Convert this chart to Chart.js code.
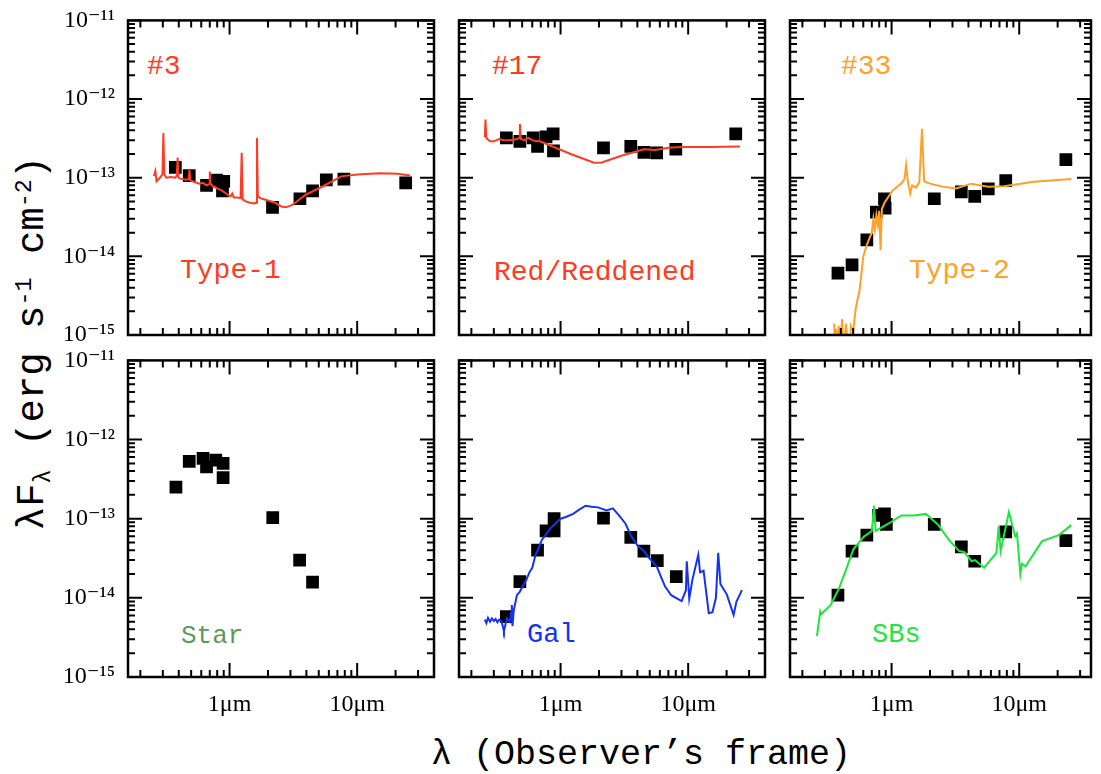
<!DOCTYPE html>
<html>
<head>
<meta charset="utf-8">
<script src="https://cdn.jsdelivr.net/npm/chart.js@4.4.1/dist/chart.umd.min.js"></script>
<style>
  html, body { margin: 0; padding: 0; background: #fff; }
  body { width: 1101px; height: 774px; position: relative; overflow: hidden; }
  canvas { position: absolute; }
  .lbl { position: absolute; font-family: 'Liberation Mono', 'DejaVu Sans Mono', monospace; line-height: 1; white-space: pre; }
  .sub { font-size: 0.6em; position: relative; top: 0.3em; }
  .sup { font-size: 0.6em; position: relative; top: -0.5em; }
</style>
</head>
<body>
<div class="lbl" id="ytitle" style="left:33px; top:343px; font-size:39px; transform: translate(-50%,-50%) rotate(-90deg);">λF<span class="sub">λ</span> (erg s<span class="sup">-1</span> cm<span class="sup">-2</span>)</div>
<div class="lbl" id="xtitle" style="left:431px; top:738px; font-size:35px;">λ (Observer’s frame)</div>

<div class="lbl" style="left:147px; top:53px; font-size:28px; color:#ff3b22;">#3</div>
<div class="lbl" style="left:180px; top:257px; font-size:28px; color:#ff3b22;">Type-1</div>
<div class="lbl" style="left:492px; top:53px; font-size:28px; color:#ff3b22;">#17</div>
<div class="lbl" style="left:494px; top:259px; font-size:28px; color:#ff3b22;">Red/Reddened</div>
<div class="lbl" style="left:841px; top:53px; font-size:28px; color:#ffa126;">#33</div>
<div class="lbl" style="left:909px; top:257px; font-size:28px; color:#ffa126;">Type-2</div>
<div class="lbl" style="left:181px; top:623px; font-size:26px; color:#5a9a5a;">Star</div>
<div class="lbl" style="left:527px; top:622px; font-size:27px; color:#1432f5;">Gal</div>
<div class="lbl" style="left:872px; top:622px; font-size:27px; color:#1ee63c;">SBs</div>

<script>
// ---------------- axis ticks ----------------
const xTickValues = [1, 10];
const xTickLabels = ['1μm', '10μm'];
const yTickValues = [1e-15, 1e-14, 1e-13, 1e-12, 1e-11];
const yTickLabels = ['10⁻¹⁵', '10⁻¹⁴', '10⁻¹³', '10⁻¹²', '10⁻¹¹'];
const xMinorTicks = [0.2, 0.3, 0.4, 0.5, 0.6, 0.7, 0.8, 0.9, 2, 3, 4, 5, 6, 7, 8, 9, 20, 30];
const yMinorMult = [2, 3, 4, 5, 6, 7, 8, 9];

// ---------------- photometry (squares) ----------------
const p3Wl  = [0.376, 0.483, 0.66, 0.79, 0.88, 0.90, 2.17, 3.56, 4.47, 5.73, 7.87, 24.0];
const p3F   = [1.35e-13, 1.06e-13, 8.0e-14, 9.3e-14, 6.8e-14, 9.0e-14, 4.2e-14, 5.4e-14, 6.8e-14, 9.4e-14, 9.6e-14, 8.6e-14];

const p17Wl = [0.376, 0.48, 0.61, 0.66, 0.77, 0.875, 0.88, 2.17, 3.55, 4.5, 5.66, 8.0, 23.6];
const p17F  = [3.2e-13, 2.9e-13, 3.2e-13, 2.5e-13, 3.3e-13, 3.6e-13, 2.2e-13, 2.4e-13, 2.5e-13, 2.1e-13, 2.07e-13, 2.3e-13, 3.6e-13];

const p33Wl = [0.38, 0.49, 0.64, 0.76, 0.88, 0.89, 2.16, 3.52, 4.48, 5.72, 7.84, 23.2];
const p33F  = [6.1e-15, 7.8e-15, 1.62e-14, 3.64e-14, 5.4e-14, 4.1e-14, 5.4e-14, 6.6e-14, 5.8e-14, 7.2e-14, 9.2e-14, 1.7e-13];

const starWl = [0.38, 0.483, 0.62, 0.66, 0.78, 0.89, 0.89, 2.18, 3.54, 4.47];
const starF  = [2.5e-13, 5.3e-13, 5.8e-13, 4.5e-13, 5.5e-13, 5.0e-13, 3.3e-13, 1.03e-13, 3.0e-14, 1.58e-14];

const galWl = [0.376, 0.48, 0.66, 0.77, 0.89, 0.89, 2.17, 3.55, 4.5, 5.73, 8.07];
const galF  = [5.8e-15, 1.6e-14, 4.0e-14, 7.0e-14, 1.0e-13, 7.0e-14, 1.02e-13, 5.8e-14, 3.9e-14, 2.95e-14, 1.85e-14];

const sbWl = [0.38, 0.49, 0.64, 0.79, 0.88, 0.91, 2.16, 3.52, 4.48, 7.84, 23.2];
const sbF  = [1.08e-14, 3.9e-14, 6.2e-14, 1.1e-13, 1.15e-13, 8.5e-14, 8.5e-14, 4.4e-14, 2.9e-14, 6.8e-14, 5.3e-14];

// ---------------- templates (lines) ----------------
const type1Wl = [0.255, 0.262, 0.268, 0.285, 0.298, 0.303, 0.308, 0.320, 0.345, 0.375, 0.385, 0.392, 0.398, 0.42, 0.46, 0.478, 0.485, 0.492, 0.53, 0.58, 0.62, 0.66, 0.695, 0.70, 0.705, 0.74, 0.80, 0.87, 0.95, 1.02, 1.05, 1.08, 1.15, 1.22, 1.245, 1.265, 1.34, 1.45, 1.55, 1.62, 1.64, 1.665, 1.74, 1.94, 2.28, 2.55, 2.75, 3.1, 3.9, 5.5, 7.5, 10, 15, 20.7, 26];
const type1F  = [1.05e-13, 1.22e-13, 9.0e-14, 1.0e-13, 1.1e-13, 3.7e-13, 1.1e-13, 1.0e-13, 1.02e-13, 1.0e-13, 1.05e-13, 1.8e-13, 1.0e-13, 9.6e-14, 9.4e-14, 9.6e-14, 1.25e-13, 9.3e-14, 8.8e-14, 8.4e-14, 8.6e-14, 8.0e-14, 8.3e-14, 1.2e-13, 8.5e-14, 7.8e-14, 7.3e-14, 6.9e-14, 6.2e-14, 5.8e-14, 6.3e-14, 5.6e-14, 5.6e-14, 5.5e-14, 2.07e-13, 5.3e-14, 5.0e-14, 4.8e-14, 4.7e-14, 4.8e-14, 3.2e-13, 5.8e-14, 5.5e-14, 5.2e-14, 4.8e-14, 4.3e-14, 4.2e-14, 4.5e-14, 6.0e-14, 7.9e-14, 1.04e-13, 1.1e-13, 1.14e-13, 1.12e-13, 1.07e-13];

const redWl = [0.255, 0.258, 0.262, 0.28, 0.30, 0.33, 0.36, 0.40, 0.46, 0.475, 0.48, 0.488, 0.52, 0.56, 0.60, 0.65, 0.69, 1.2, 1.83, 2.1, 3.0, 4.5, 5.5, 7.0, 9.0, 15, 25.5];
const redF  = [3.3e-13, 5.5e-13, 3.2e-13, 2.9e-13, 2.9e-13, 3.1e-13, 3.0e-13, 3.0e-13, 3.1e-13, 3.2e-13, 4.8e-13, 3.1e-13, 3.0e-13, 3.2e-13, 3.0e-13, 2.9e-13, 2.9e-13, 2.0e-13, 1.55e-13, 1.56e-13, 1.9e-13, 2.3e-13, 2.25e-13, 2.4e-13, 2.45e-13, 2.45e-13, 2.5e-13];

const type2Wl = [0.355, 0.362, 0.368, 0.375, 0.385, 0.39, 0.40, 0.41, 0.42, 0.44, 0.46, 0.48, 0.50, 0.52, 0.54, 0.56, 0.58, 0.60, 0.64, 0.68, 0.70, 0.72, 0.74, 0.76, 0.78, 0.80, 0.82, 0.84, 0.88, 0.95, 1.02, 1.10, 1.19, 1.26, 1.30, 1.34, 1.40, 1.45, 1.55, 1.65, 1.73, 1.80, 2.0, 2.5, 3.2, 4.2, 5.7, 7.6, 13, 25.6];
const type2F  = [1.4e-15, 5e-16, 1.2e-15, 5e-16, 1.3e-15, 6e-16, 1.0e-15, 1.6e-15, 6e-16, 1.4e-15, 5e-16, 1.3e-15, 1.1e-15, 2.0e-15, 2.8e-15, 3.6e-15, 6e-15, 1.0e-14, 1.4e-14, 1.8e-14, 2.0e-14, 3.0e-14, 2.2e-14, 3.3e-14, 2.5e-14, 3.8e-14, 1.2e-14, 4.0e-14, 4.8e-14, 5.8e-14, 6.9e-14, 7.6e-14, 8.4e-14, 9.5e-14, 1.45e-13, 9.0e-14, 6.3e-14, 8.0e-14, 7.5e-14, 8.8e-14, 4.2e-13, 9.0e-14, 8.4e-14, 7.7e-14, 7.3e-14, 8.4e-14, 7.7e-14, 7.8e-14, 8.9e-14, 9.6e-14];

const galTplWl = [0.255, 0.262, 0.27, 0.28, 0.29, 0.30, 0.31, 0.32, 0.33, 0.345, 0.355, 0.36, 0.37, 0.38, 0.40, 0.41, 0.415, 0.42, 0.43, 0.455, 0.48, 0.51, 0.54, 0.57, 0.60, 0.637, 0.66, 0.713, 0.75, 0.829, 0.9, 1.0, 1.1, 1.255, 1.4, 1.57, 1.75, 1.97, 2.29, 2.57, 2.87, 3.22, 3.6, 4.04, 4.5, 4.86, 5.66, 6.58, 7.36, 8.89, 9.6, 9.75, 10.2, 10.8, 12.0, 12.4, 13.2, 14.5, 15.5, 16.5, 17.2, 17.9, 20.1, 22.7, 23.9, 26.4];
const galTplF  = [5.3e-15, 4.8e-15, 5.6e-15, 5.0e-15, 5.5e-15, 5.1e-15, 5.4e-15, 4.9e-15, 5.3e-15, 5.0e-15, 4.2e-15, 3.8e-15, 4.6e-15, 5.5e-15, 5.0e-15, 6.5e-15, 8.1e-15, 4.4e-15, 7.0e-15, 1.08e-14, 1.2e-14, 1.44e-14, 1.7e-14, 2.1e-14, 2.4e-14, 3.5e-14, 3.9e-14, 5.4e-14, 6.0e-14, 7.5e-14, 8.5e-14, 1.0e-13, 1.05e-13, 1.15e-13, 1.3e-13, 1.46e-13, 1.42e-13, 1.39e-13, 1.27e-13, 1.35e-13, 1.1e-13, 8.7e-14, 5.9e-14, 4.5e-14, 3.9e-14, 3.3e-14, 2.5e-14, 1.4e-14, 1.08e-14, 9.1e-15, 1.25e-14, 2.9e-14, 9.8e-15, 1.7e-14, 3.5e-14, 2.1e-14, 2.2e-14, 6.4e-15, 6.6e-15, 1.0e-14, 3.7e-14, 1.5e-14, 1.1e-14, 6.1e-15, 9e-15, 1.25e-14];

const sbTplWl = [0.26, 0.276, 0.28, 0.332, 0.386, 0.432, 0.502, 0.604, 0.70, 0.73, 0.75, 0.95, 1.19, 1.5, 1.86, 2.33, 2.81, 3.39, 3.7, 4.24, 4.5, 5.31, 6.63, 6.9, 7.15, 8.3, 9.3, 9.6, 10.2, 10.5, 11.2, 15.1, 20.4, 25.6];
const sbTplF  = [3.3e-15, 6.7e-15, 6.2e-15, 8.1e-15, 1.3e-14, 2.1e-14, 4.1e-14, 5.9e-14, 7.0e-14, 1.46e-13, 7.0e-14, 8.7e-14, 1.1e-13, 1.1e-13, 1.15e-13, 8.3e-14, 5.4e-14, 3.9e-14, 3.8e-14, 2.9e-14, 3.0e-14, 2.4e-14, 3.7e-14, 8.0e-14, 3.9e-14, 1.21e-13, 6.0e-14, 6.5e-14, 2.0e-14, 2.7e-14, 2.5e-14, 5.2e-14, 6.2e-14, 8.3e-14];

// ---------------- layout ----------------
const AX_W = 120, AX_H = 50, PAD_T = 20, PAD_R = 6;
const BLACK = '#000000';

const panels = [
  { L: 128, T: 13,  W: 309, H: 322, xmax: 40,   pw: p3Wl,   pf: p3F,   tw: type1Wl,  tf: type1F,  color: '#ff3b22', xlab: false, ylab: true },
  { L: 459, T: 13,  W: 309, H: 322, xmax: 40,   pw: p17Wl,  pf: p17F,  tw: redWl,    tf: redF,    color: '#ff3b22', xlab: false, ylab: false },
  { L: 790, T: 13,  W: 304, H: 322, xmax: 36.5, pw: p33Wl,  pf: p33F,  tw: type2Wl,  tf: type2F,  color: '#ffa126', xlab: false, ylab: false },
  { L: 128, T: 353, W: 309, H: 324, xmax: 40,   pw: starWl, pf: starF, tw: null,     tf: null,    color: '#5a9a5a', xlab: true,  ylab: true },
  { L: 459, T: 353, W: 309, H: 324, xmax: 40,   pw: galWl,  pf: galF,  tw: galTplWl, tf: galTplF, color: '#1432f5', xlab: true,  ylab: false },
  { L: 790, T: 353, W: 304, H: 324, xmax: 36.5, pw: sbWl,   pf: sbF,   tw: sbTplWl,  tf: sbTplF,  color: '#1ee63c', xlab: true,  ylab: false }
];

const frameTicks = {
  id: 'frameTicks',
  afterDraw(chart) {
    const { ctx, chartArea: a, scales } = chart;
    const xs = scales.x, ys = scales.y;
    const MAJ = 14, MIN = 7;
    ctx.save();
    ctx.strokeStyle = BLACK;
    ctx.lineWidth = 2;
    ctx.lineCap = 'butt';
    ctx.beginPath();
    const seg = (x1, y1, x2, y2) => { ctx.moveTo(x1, y1); ctx.lineTo(x2, y2); };
    yTickValues.forEach(v => {
      const p = ys.getPixelForValue(v);
      seg(a.left, p, a.left + MAJ, p);
      seg(a.right, p, a.right - MAJ, p);
      yMinorMult.forEach(m => {
        const val = v * m;
        if (val >= ys.max) return;
        const q = ys.getPixelForValue(val);
        seg(a.left, q, a.left + MIN, q);
        seg(a.right, q, a.right - MIN, q);
      });
    });
    xTickValues.forEach(v => {
      const p = xs.getPixelForValue(v);
      seg(p, a.bottom, p, a.bottom - MAJ);
      seg(p, a.top, p, a.top + MAJ);
    });
    xMinorTicks.forEach(v => {
      if (v <= xs.min || v >= xs.max) return;
      const p = xs.getPixelForValue(v);
      seg(p, a.bottom, p, a.bottom - MIN);
      seg(p, a.top, p, a.top + MIN);
    });
    ctx.stroke();
    ctx.lineWidth = 2.5;
    ctx.strokeRect(a.left, a.top, a.right - a.left, a.bottom - a.top);
    ctx.restore();
  }
};

panels.forEach((p, idx) => {
  const cv = document.createElement('canvas');
  const cw = AX_W + p.W + PAD_R, ch = PAD_T + p.H + AX_H;
  cv.width = cw; cv.height = ch;
  cv.style.left = (p.L - AX_W) + 'px';
  cv.style.top = (p.T - PAD_T) + 'px';
  cv.style.width = cw + 'px';
  cv.style.height = ch + 'px';
  document.body.appendChild(cv);

  const datasets = [];
  if (p.tw) {
    datasets.push({
      data: p.tw.map((w, i) => ({ x: w, y: p.tf[i] })),
      showLine: true, borderColor: p.color, borderWidth: 2, pointRadius: 0, tension: 0
    });
  }
  datasets.push({
    data: p.pw.map((w, i) => ({ x: w, y: p.pf[i] })),
    showLine: false, pointStyle: 'rect', pointRadius: 9,
    backgroundColor: BLACK, borderWidth: 0
  });

  new Chart(cv, {
    type: 'scatter',
    data: { datasets },
    options: {
      responsive: false, animation: false, devicePixelRatio: 1,
      layout: { padding: { left: 0, top: PAD_T, right: PAD_R, bottom: 0 } },
      plugins: { legend: { display: false }, tooltip: { enabled: false } },
      scales: {
        x: {
          type: 'logarithmic', min: 0.16, max: p.xmax,
          grid: { display: false, drawTicks: false }, border: { display: false },
          afterBuildTicks: s => { s.ticks = xTickValues.map(v => ({ value: v })); },
          afterFit: s => { s.height = AX_H; },
          ticks: {
            autoSkip: false, maxRotation: 0, padding: 13, color: BLACK,
            font: { family: "'Liberation Serif', 'DejaVu Serif', serif", size: 24 },
            callback: (v, i) => p.xlab ? xTickLabels[i] : ''
          }
        },
        y: {
          type: 'logarithmic', min: 1e-15, max: 1e-11,
          grid: { display: false, drawTicks: false }, border: { display: false },
          afterBuildTicks: s => { s.ticks = yTickValues.map(v => ({ value: v })); },
          afterFit: s => { s.width = AX_W; },
          ticks: {
            autoSkip: false, padding: 13, color: BLACK,
            font: { family: "'Liberation Serif', 'DejaVu Serif', serif", size: 24 },
            callback: (v, i) => p.ylab ? yTickLabels[i] : ''
          }
        }
      }
    },
    plugins: [frameTicks]
  });
});
</script>
</body>
</html>
